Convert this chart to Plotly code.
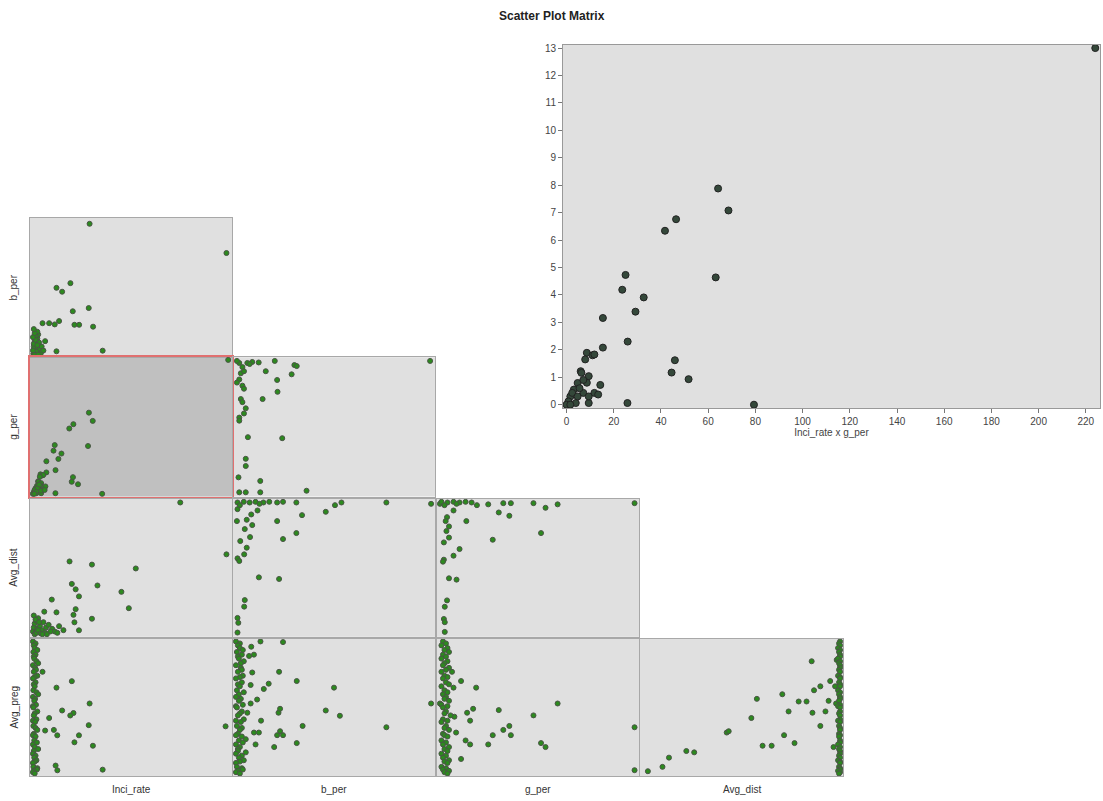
import plotly.graph_objects as go

W, H = 1103, 801

# ---------------- variables ----------------
row_vars = ["b_per", "g_per", "Avg_dist", "Avg_preg"]
col_vars = ["Inci_rate", "b_per", "g_per", "Avg_dist"]
var_max = {"Inci_rate": 225, "b_per": 100, "g_per": 13, "Avg_dist": 100, "Avg_preg": 10}

# ---------------- data ----------------
# b_per vs Inci_rate
bi_inci = [65, 222, 43, 27, 33.5, 45.7, 64, 47.6, 53, 69, 80, 27, 11, 18.6, 25, 30,
           1, 2, 3, 4, 5, 6, 2, 3, 5, 8, 10, 1, 4, 7, 9, 12, 0.5, 2, 6, 14, 0, 1, 3, 0, 2, 5, 1]
bi_bper = [97.6, 75.8, 53.3, 49.8, 46.9, 32.3, 34.7, 22.2, 22.2, 20.8, 2.9, 2.4, 23.4, 23.4, 22.5, 25,
           1, 3, 5, 8, 12, 15, 10, 14, 17, 4, 6, 6, 2, 9, 1, 3, 0.5, 0, 0, 10, 3, 8, 11, 13, 16, 7, 19]

# g_per vs Inci_rate (also the enlarged plot)
gi_inci = [224, 64.2, 68.6, 46.4, 41.7, 25.0, 63.2, 23.6, 32.7, 29.2, 15.4, 25.9, 15.4, 45.9, 44.5, 51.7, 79.4, 25.8, 14.3,
           8.6, 11, 11.8, 7.9, 6, 6.3, 9.4, 8.6, 4.7, 3.1, 1.6, 0.8, 3.9, 9.4, 7.1, 11.8, 2.4, 4.7, 0, 1.6, 9.4, 5.5, 7.1, 13.4]
gi_gper = [13.0, 7.88, 7.08, 6.76, 6.34, 4.73, 4.64, 4.19, 3.91, 3.39, 3.16, 2.30, 2.08, 1.62, 1.17, 0.93, 0.0, 0.06, 0.72,
           1.89, 1.8, 1.83, 1.65, 1.22, 1.16, 1.04, 0.8, 0.79, 0.55, 0.3, 0.12, 0.06, 0.06, 0.43, 0.43, 0.43, 0.3, 0, 0, 0.3, 0.6, 0.9, 0.37]

# Avg_dist vs Inci_rate
di_inci = [169, 222, 42, 67.7, 118, 44.6, 49, 74, 52.8, 101.5, 21.6, 110, 49, 27, 13, 46.5, 67.7, 47.6, 52.8,
           0, 1, 2, 3, 4, 5, 6, 8, 10, 12, 15, 18, 22, 25, 30, 35, 2, 4, 6, 9, 14, 20, 28, 1, 3, 7, 11, 16]
di_dist = [99, 60, 54.7, 52.3, 49.4, 37.8, 33.7, 36.6, 28.4, 31.8, 26, 19.5, 18.8, 16.4, 16.9, 14.5, 11.6, 8.9, 2.9,
           2, 5, 8, 1, 10, 4, 12, 6, 3, 9, 5, 7, 4, 2, 6, 3, 0, 1, 3, 0.5, 1, 2, 1, 14, 11, 9, 0, 0]

# Avg_preg values of the many records sitting on the edge columns
dense_preg = [10, 9.85, 9.7, 9.5, 9.35, 9.2, 9.0, 8.85, 8.7, 8.5, 8.35, 8.2, 8.0, 7.85, 7.7, 7.4, 7.3, 7.2, 6.9, 6.75,
              6.6, 6.3, 6.15, 6.0, 5.8, 5.65, 5.5, 5.2, 5.1, 5.0, 4.7, 4.55, 4.4, 4.1, 4.0, 3.9, 3.6, 3.45, 3.3, 3.0,
              2.9, 2.8, 2.5, 2.35, 2.2, 2.0, 1.85, 1.7, 1.5, 1.35, 1.2, 1.0, 0.9, 0.8, 0.5, 0.4, 0.3, 0.2, 0.1, 0]
dense_inci = [0, 3, 1, 2, 5, 0.5, 3, 1, 1.5, 4, 6, 0, 2.5, 3.5, 1, 5, 2, 0, 3, 1,
              2, 0.5, 4, 6, 0, 2.5, 1.5, 3.5, 0, 0.5, 5, 2, 1, 4, 0, 2.5, 0.5, 3, 5, 1,
              0, 3, 1.5, 4.5, 0, 2, 6, 1, 0, 3, 1.5, 4, 2, 0, 0.5, 5, 4.5, 1, 0, 2]
dense_bper = [0, 2, 1, 2, 3.5, 0.5, 3, 1, 1.5, 4, 2.5, 0, 2.5, 3, 1, 3.5, 2, 0, 3, 1,
              2, 0.5, 4, 1.5, 0, 2.5, 1.5, 3.5, 0, 0.5, 3, 2, 1, 4, 0, 2.5, 0.5, 3, 2, 1,
              0, 3, 1.5, 3.5, 0, 2, 1, 1, 0, 3, 1.5, 4, 2, 0, 0.5, 3, 3.5, 1, 0, 2]
dense_gper = [0.2, 0.4, 0.1, 0.5, 0.3, 0.6, 0.2, 0.4, 0.1, 0.5, 0.3, 0.2, 0.6, 0.4, 0.1, 0.3, 0.5, 0.2, 0.4, 0.6,
              0.1, 0.3, 0.5, 0.2, 0.4, 0.3, 0.6, 0.1, 0.5, 0.2, 0.4, 0.3, 0.7, 0.2, 0.5, 0.1, 0.4, 0.3, 0.6, 0.2,
              0.3, 0.5, 0.1, 0.4, 0.2, 0.6, 0.3, 0.5, 0.1, 0.4, 0.2, 0.6, 0.3, 0.5, 0.1, 0.4, 0.2, 0.6, 0.3, 0.5]
dense_dist = [100, 99.5, 100, 99, 100, 99.5, 100, 100, 99, 100, 99.5, 100, 100, 99.5, 100, 99, 100, 100, 99.5, 100,
              100, 99, 100, 99.5, 100, 100, 99.5, 100, 99, 100, 100, 99.5, 100, 100, 99, 100, 99.5, 100, 100, 99.5,
              100, 99.5, 100, 100, 99, 100, 99.5, 100, 100, 99.5, 100, 99, 100, 100, 99.5, 100, 100, 99, 100, 99.5]

# Avg_preg vs Inci_rate
pi_inci = [44.6, 27, 65, 33.5, 46.5, 42.8, 18.6, 64, 24, 14, 27.9, 52.8, 47.6, 68.8, 26, 28, 80, 221, 11]
pi_preg = [6.99, 6.5, 5.3, 4.77, 4.58, 4.39, 4.2, 3.66, 3.3, 3.25, 2.89, 2.89, 2.36, 2.1, 0.6, 0.24, 0.29, 3.57, 7.7]

# g_per vs b_per
gb_bper = [99, 19.8, 29.8, 31, 28.4, 21, 15.2, 21.2, 13.6, 6.1, 23.6, 5, 5, 1.3, 12.4, 36, 1.7, 5, 12.4,
           1.7, 3.3, 5.8, 8.3, 11.6, 2.5, 4.1, 1.7, 3.3, 4.1, 2.5, 3.3, 5, 4.1, 1.7, 1.7, 0.5, 0.5, 7]
gb_gper = [12.9, 12.9, 12.5, 12.4, 11.6, 11.05, 11.9, 9.9, 9.2, 5.5, 5.4, 3.4, 2.7, 1.6, 1.25, 0.3, 0.15, 0.15, 0.15,
           12.7, 12.3, 12.7, 12.8, 12.75, 11.7, 11.9, 11.1, 10.5, 10.2, 9.2, 8.9, 8.3, 7.8, 7.4, 7.1, 12.9, 10.8, 12.6]

# Avg_dist vs b_per
db_bper = [30.8, 53.8, 76.7, 99.5, 50.5, 45.8, 33.7, 7.8, 11, 0.8, 0.5, 5.5, 21, 8.3, 4.5, 30.8, 7.2, 24, 2.2, 5.5,
           4.2, 0.8, 1.7, 11.7, 22, 4.5, 4.2, 0.8, 1.2, 0.8, 0.8, 4, 7, 10, 14, 17, 21, 24, 2, 12]
db_dist = [99, 99, 99, 98, 97, 92, 89.5, 90, 93, 94, 85, 86, 85, 82, 79, 76, 73, 71.5, 70, 65,
           60, 57, 55, 42.7, 41.5, 25.6, 20.7, 12.2, 8.5, 1.2, 99, 99.5, 99, 99.5, 99, 99.5, 99, 99.5, 97, 98]

# Avg_preg vs b_per
pb_bper = [24, 12.5, 22, 31, 50, 99.5, 45.8, 53, 21.7, 22.5, 34, 76.7, 22.5, 21, 24, 31, 19.5, 12.8, 11.7, 10,
           16.7, 14.2, 7.5, 8.3, 6.7, 9.2, 7.8, 10.8, 7.5, 5.8, 5, 5, 9.2]
pb_preg = [9.95, 10, 7.7, 7.0, 6.5, 5.3, 4.77, 4.37, 4.6, 4.9, 3.6, 3.5, 3.2, 2.9, 2.9, 2.3, 2.0, 4.0, 3.1, 2.2,
           6.8, 6.4, 6.7, 7.65, 8.9, 9.0, 9.6, 5.6, 5.3, 4.6, 2.6, 1.6, 3.1]

# Avg_dist vs g_per
dg_gper = [0, 2.45, 3.2, 4.2, 4.7, 6.2, 7.8, 7.0, 12.9, 3.9, 4.6, 0.9, 1.75, 0.47, 0.38, 0.6, 0.43, 6.7, 0.6, 3.5,
           0.26, 1.3, 0.9, 0.26, 0.2, 0.6, 1.1, 0.47, 0.32, 0.26, 0.32, 0.32, 0.1, 0.5, 0.9, 1.3, 1.7, 2.1, 0.3, 1.1]
dg_dist = [98, 97, 97.6, 98.5, 98.5, 98.5, 97.6, 95, 98.5, 91.5, 89, 93, 85, 88, 85, 81, 77.5, 76, 72.6, 71,
           69, 64, 59, 56, 54.5, 42, 41, 25.4, 20.6, 11.4, 9, 1.7, 99.5, 99, 99.5, 99, 99.5, 99, 97, 98]

# Avg_preg vs g_per
pg_gper = [0.8, 1.4, 2.4, 7.8, 0, 2.2, 1.8, 3.9, 6.2, 2.0, 4.6, 4.2, 12.9, 3.5, 4.7, 3.2, 6.7, 7.0, 1.7, 2.0,
           1.4, 0.9, 0.96, 1.07, 12.9]
pg_preg = [7.7, 7.0, 6.5, 5.3, 5.3, 4.9, 4.6, 4.8, 4.4, 4.0, 3.6, 3.3, 3.5, 2.9, 2.9, 2.2, 2.3, 2.0, 2.5, 2.2,
           1.1, 6.5, 4.3, 3.1, 0.25]

# Avg_preg vs Avg_dist
pd_dist = [2.5, 9.9, 13.2, 22, 26, 42.5, 43.5, 55, 57.8, 60.7, 65.3, 70.7, 73.9, 71.6, 76.9, 79, 83, 85.6, 86.8, 86,
           90, 90, 92.6, 94.2, 95, 96.7, 97.5, 98, 98.3]
pd_preg = [0.17, 0.5, 1.2, 1.7, 1.6, 3.1, 3.2, 4.2, 5.65, 2.1, 2.1, 6.0, 4.7, 2.9, 2.3, 5.45, 5.45, 8.5, 6.3, 4.6,
           6.6, 3.6, 4.7, 5.5, 7.0, 2.0, 6.6, 5.3, 8.6]

# (row, col) -> list of (x values, y values)
cells = {
    (0, 0): [(bi_inci, bi_bper)],
    (1, 0): [(gi_inci, gi_gper)],
    (2, 0): [(di_inci, di_dist)],
    (3, 0): [(pi_inci, pi_preg), (dense_inci, dense_preg)],
    (1, 1): [(gb_bper, gb_gper)],
    (2, 1): [(db_bper, db_dist)],
    (3, 1): [(pb_bper, pb_preg), (dense_bper, dense_preg)],
    (2, 2): [(dg_gper, dg_dist)],
    (3, 2): [(pg_gper, pg_preg), (dense_gper, dense_preg)],
    (3, 3): [(pd_dist, pd_preg), (dense_dist, dense_preg)],
}
highlight = (1, 0)

# ---------------- layout geometry (pixels) ----------------
col_px = [(30, 232), (233, 435), (437, 639), (640, 843)]
row_px = [(217, 357), (357, 497), (499, 638), (640, 778)]
big_px = (563, 1100, 43, 408)


def xd(a, b):
    return [a / W, b / W]


def yd(a, b):
    return [1 - b / H, 1 - a / H]


FONT = "Arial, Liberation Sans, sans-serif"
fig = go.Figure()
layout = {}
shapes = []
annotations = []

MARK = dict(size=5, color="#2c8a1e", line=dict(width=1, color="#4a5446"))

k = 0
for (r, c), series in cells.items():
    k += 1
    xa = "xaxis" if k == 1 else f"xaxis{k}"
    ya = "yaxis" if k == 1 else f"yaxis{k}"
    xr = "x" if k == 1 else f"x{k}"
    yr = "y" if k == 1 else f"y{k}"
    xv, yv = col_vars[c], row_vars[r]
    xm, ym = var_max[xv], var_max[yv]
    hl = (r, c) == highlight
    lc = "#e07070" if hl else "#a8a8a8"
    for xs, ys in series:
        fig.add_trace(go.Scatter(x=xs, y=ys, mode="markers", marker=MARK, xaxis=xr, yaxis=yr,
                                 hoverinfo="skip", cliponaxis=False))
    common = dict(showticklabels=False, ticks="", showgrid=False, zeroline=False,
                  showline=True, mirror=True, linecolor=lc, linewidth=1.5 if hl else 1)
    layout[xa] = dict(domain=xd(*col_px[c]), range=[-0.015 * xm, 1.015 * xm], anchor=yr, **common)
    layout[ya] = dict(domain=yd(*row_px[r]), range=[-0.02 * ym, 1.02 * ym], anchor=xr, **common)
    if hl:
        shapes.append(dict(type="rect", xref="paper", yref="paper", layer="below",
                           x0=col_px[c][0] / W, x1=col_px[c][1] / W,
                           y0=1 - row_px[r][1] / H, y1=1 - row_px[r][0] / H,
                           fillcolor="#c0c0c0", line=dict(width=0)))

# enlarged plot: Inci_rate x g_per
k += 1
bx, by = f"x{k}", f"y{k}"
fig.add_trace(go.Scatter(x=gi_inci, y=gi_gper, mode="markers", xaxis=bx, yaxis=by, hoverinfo="skip",
                         cliponaxis=False,
                         marker=dict(size=7, color="#34483a", line=dict(width=1, color="#222222"))))
tickfont = dict(family=FONT, size=10, color="#444444")
layout[f"xaxis{k}"] = dict(domain=xd(big_px[0], big_px[1]), range=[-1.5, 226], anchor=by, dtick=20, tick0=0,
                           ticks="outside", ticklen=4, tickcolor="#777777", tickfont=tickfont,
                           showgrid=False, zeroline=False, showline=True, mirror=True, linecolor="#999999",
                           title=dict(text="Inci_rate x g_per", standoff=0, font=dict(family=FONT, size=10, color="#444444")))
layout[f"yaxis{k}"] = dict(domain=yd(big_px[2], big_px[3]), range=[-0.12, 13.12], anchor=bx, dtick=1, tick0=0,
                           ticks="outside", ticklen=4, tickcolor="#777777", tickfont=tickfont,
                           showgrid=False, zeroline=False, showline=True, mirror=True, linecolor="#999999")

# labels
for r, name in enumerate(row_vars):
    annotations.append(dict(text=name, xref="paper", yref="paper", x=14 / W,
                            y=1 - (row_px[r][0] + row_px[r][1]) / 2 / H, textangle=-90, showarrow=False,
                            font=dict(family=FONT, size=10, color="#333333"), xanchor="center", yanchor="middle"))
for c, name in enumerate(col_vars):
    annotations.append(dict(text=name, xref="paper", yref="paper", x=(col_px[c][0] + col_px[c][1]) / 2 / W,
                            y=1 - 791 / H, showarrow=False,
                            font=dict(family=FONT, size=10, color="#333333"), xanchor="center", yanchor="middle"))
annotations.append(dict(text="<b>Scatter Plot Matrix</b>", xref="paper", yref="paper", x=0.5, y=1 - 14 / H,
                        showarrow=False, font=dict(family=FONT, size=12, color="#222222"),
                        xanchor="center", yanchor="middle"))

fig.update_layout(width=W, height=H, margin=dict(l=0, r=0, t=0, b=0), showlegend=False,
                  plot_bgcolor="#e0e0e0", paper_bgcolor="#ffffff", shapes=shapes, annotations=annotations,
                  font=dict(family=FONT), **layout)

fig.write_html("out.html", config={"displayModeBar": False},
               post_script="document.body.style.margin='0';document.body.style.overflow='hidden';")
